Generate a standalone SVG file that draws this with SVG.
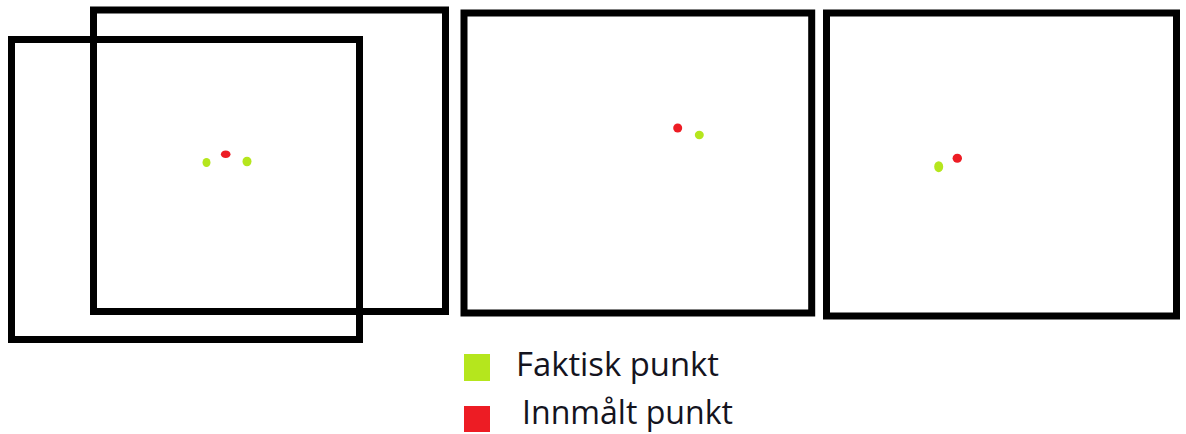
<svg xmlns="http://www.w3.org/2000/svg" width="1186" height="434" viewBox="0 0 1186 434">
  <style>
    .frame { fill: none; stroke: #000; stroke-width: 7; }
    .actual { fill: #b5e61d; }
    .measured { fill: #ed1c24; }
    .label { font-family: "Open Sans", "Noto Sans", "Liberation Sans", sans-serif; font-size: 32px; fill: #14141e; }
  </style>
  <rect width="1186" height="434" fill="#fff"/>

  <!-- Panel 1: two overlapping frames -->
  <g id="panel1-back">
    <rect class="frame" x="11.5" y="39.5" width="348" height="300" stroke-width="6"/>
  </g>
  <g id="panel1-front">
    <rect class="frame" x="93.5" y="10" width="352" height="301.5"/>
  </g>
  <g id="panel1-points">
    <ellipse class="actual" cx="206.5" cy="162.5" rx="4" ry="4.5"/>
    <ellipse class="measured" cx="225.7" cy="154.3" rx="4.8" ry="3.8"/>
    <ellipse class="actual" cx="247" cy="161.5" rx="4.5" ry="4.8"/>
  </g>

  <!-- Panel 2 -->
  <g id="panel2">
    <rect class="frame" x="464" y="13" width="347.7" height="300"/>
    <ellipse class="measured" cx="677.7" cy="128" rx="4.5" ry="4.5"/>
    <ellipse class="actual" cx="699.3" cy="135" rx="4.5" ry="4.2"/>
  </g>

  <!-- Panel 3 -->
  <g id="panel3">
    <rect class="frame" x="826.5" y="13" width="350" height="303"/>
    <ellipse class="measured" cx="957.3" cy="158.3" rx="4.7" ry="4.5"/>
    <ellipse class="actual" cx="938.7" cy="166.7" rx="4.5" ry="5.5"/>
  </g>

  <!-- Legend -->
  <g id="legend-actual">
    <rect class="actual" x="464" y="354" width="26" height="27"/>
    <text class="label" x="516" y="376" textLength="203" lengthAdjust="spacingAndGlyphs">Faktisk punkt</text>
  </g>
  <g id="legend-measured">
    <rect class="measured" x="464" y="406" width="26" height="26"/>
    <text class="label" x="522" y="423.5" textLength="211" lengthAdjust="spacingAndGlyphs">Innmålt punkt</text>
  </g>
</svg>
